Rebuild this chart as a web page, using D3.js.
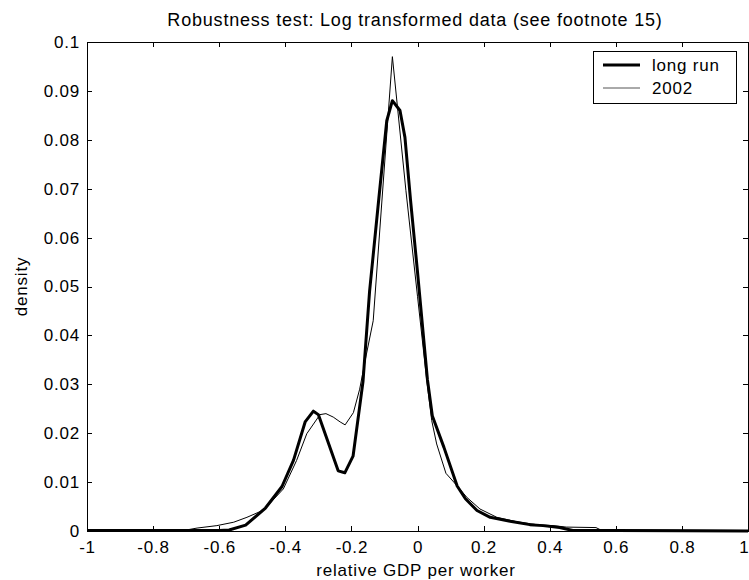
<!doctype HTML>
<meta charset="utf-8">
<title>Robustness test</title>

<style>
body {
  margin: 0px;
  background: #fff;
}
svg {
  font-family: "Liberation Sans", Arial, sans-serif;
}
svg text {
  letter-spacing: 0.8px;
}
.axis path, .axis line {
  stroke: #000;
  shape-rendering: crispEdges;
}
.axis text {
  font-size: 17px;
  fill: #000;
}
path.line {
  fill: none;
  stroke: #000;
  stroke-linejoin: round;
}
</style>

<script src="https://d3js.org/d3.v7.min.js"></script>

<body>
<script>
var width = 749, height = 580;
var margin = {top: 42, right: 1, bottom: 49, left: 87};

// long run density (thick line)
var xLong = [-1, -0.6, -0.57, -0.52, -0.46, -0.41, -0.375, -0.34, -0.315, -0.30, -0.24, -0.22,
  -0.195, -0.165, -0.145, -0.117, -0.093, -0.076, -0.053, -0.038, -0.021, 0.0, 0.03, 0.045,
  0.08, 0.12, 0.145, 0.18, 0.22, 0.28, 0.34, 0.38, 0.43, 0.47, 0.6, 1];
var yLong = [0.0001, 0.0001, 0.0002, 0.0012, 0.0047, 0.0091, 0.0145, 0.0223, 0.0245, 0.0238, 0.0123, 0.0119,
  0.0153, 0.0305, 0.049, 0.068, 0.0839, 0.088, 0.086, 0.0805, 0.0676, 0.053, 0.031, 0.0235,
  0.0171, 0.0092, 0.0066, 0.0042, 0.0028, 0.002, 0.0013, 0.0011, 0.0007, 0.0001, 0.0001, 0];

// 2002 density (thin line)
var x2002 = [-1, -0.7, -0.667, -0.607, -0.556, -0.516, -0.465, -0.406, -0.366, -0.335, -0.295, -0.277,
  -0.255, -0.234, -0.219, -0.194, -0.175, -0.155, -0.134, -0.076, -0.035, 0.0, 0.028, 0.043,
  0.058, 0.086, 0.123, 0.149, 0.189, 0.24, 0.3, 0.36, 0.41, 0.45, 0.54, 0.555, 0.7, 1];
var y2002 = [0.0001, 0.0002, 0.0006, 0.0011, 0.0018, 0.0028, 0.0043, 0.0086, 0.0144, 0.0199, 0.0238, 0.024,
  0.0233, 0.0223, 0.0217, 0.0242, 0.029, 0.036, 0.043, 0.097, 0.0696, 0.048, 0.0308, 0.0226,
  0.0178, 0.0118, 0.009, 0.0069, 0.0045, 0.0028, 0.0019, 0.0013, 0.0011, 0.0008, 0.0007, 0.0002, 0.0002, 0.0001];

var xTicks = [-1, -0.8, -0.6, -0.4, -0.2, 0, 0.2, 0.4, 0.6, 0.8, 1];
var yTicks = [0, 0.01, 0.02, 0.03, 0.04, 0.05, 0.06, 0.07, 0.08, 0.09, 0.1];
var seriesNames = ["long run", "2002"];

var svg = d3.select("body").append("svg")
    .attr("width", width)
    .attr("height", height);

var w = width - margin.left - margin.right,
    h = height - margin.top - margin.bottom;

var x = d3.scaleLinear().domain([-1, 1]).range([margin.left, margin.left + w]);
var y = d3.scaleLinear().domain([0, 0.1]).range([margin.top + h, margin.top]);

// plain hyphen minus, like the matlab figure
var plain = function(d) { return String(d); };

// axes, ticks pointing inwards, box all round
var xAxisG = svg.append("g").attr("class", "axis")
    .attr("transform", "translate(0," + (margin.top + h) + ")")
    .call(d3.axisBottom(x).tickValues(xTicks).tickSizeInner(-5).tickSizeOuter(0)
      .tickPadding(10).tickFormat(plain));
// last label sits on the window edge; keep it inside
xAxisG.selectAll(".tick text").filter(function(d) { return d == 1; })
    .attr("text-anchor", "end").attr("dx", 1);
svg.append("g").attr("class", "axis")
    .attr("transform", "translate(0," + margin.top + ")")
    .call(d3.axisTop(x).tickValues(xTicks).tickSizeInner(-5).tickSizeOuter(0).tickFormat(""));
svg.append("g").attr("class", "axis")
    .attr("transform", "translate(" + margin.left + ",0)")
    .call(d3.axisLeft(y).tickValues(yTicks).tickSizeInner(-5).tickSizeOuter(0)
      .tickPadding(7).tickFormat(plain));
svg.append("g").attr("class", "axis")
    .attr("transform", "translate(" + (margin.left + w) + ",0)")
    .call(d3.axisRight(y).tickValues(yTicks).tickSizeInner(-5).tickSizeOuter(0).tickFormat(""));

// lines
var line = d3.line()
    .x(function(d) { return x(d[0]); })
    .y(function(d) { return y(d[1]); });

svg.append("path").attr("class", "line")
    .attr("d", line(d3.zip(x2002, y2002)))
    .attr("stroke-width", 1);
svg.append("path").attr("class", "line")
    .attr("d", line(d3.zip(xLong, yLong)))
    .attr("stroke-width", 3);

// title and labels
svg.append("text")
    .attr("x", 415)
    .attr("y", 26)
    .attr("text-anchor", "middle")
    .style("font-size", "18px")
    .text("Robustness test: Log transformed data (see footnote 15)");
svg.append("text")
    .attr("x", 416)
    .attr("y", 576)
    .attr("text-anchor", "middle")
    .style("font-size", "17px")
    .text("relative GDP per worker");
svg.append("text")
    .attr("transform", "translate(27," + (margin.top + h / 2) + ") rotate(-90)")
    .attr("text-anchor", "middle")
    .style("font-size", "17px")
    .text("density");

// legend
var legend = svg.append("g").attr("transform", "translate(593,51)");
legend.append("rect")
    .attr("width", 143).attr("height", 52)
    .attr("fill", "#fff").attr("stroke", "#000").attr("stroke-width", 1)
    .attr("shape-rendering", "crispEdges");
seriesNames.forEach(function(name, i) {
  var ly = 14 + i * 23;
  legend.append("line")
      .attr("x1", 10).attr("x2", 47).attr("y1", ly).attr("y2", ly)
      .attr("stroke", i == 0 ? "#000" : "#555")
      .attr("stroke-width", i == 0 ? 3 : 1);
  legend.append("text")
      .attr("x", 59).attr("y", ly + 6)
      .style("font-size", "17px")
      .text(name);
});
</script>
